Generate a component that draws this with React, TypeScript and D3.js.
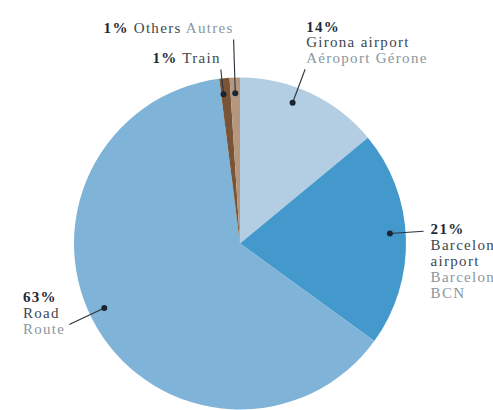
import * as d3 from 'd3';
import { useEffect, useRef } from 'react';

// slice data, clockwise from 12 o'clock
const categories = ['Girona airport', 'Barcelona airport', 'Road', 'Train', 'Others'];
const translations = ['Aéroport Gérone', 'Barcelona BCN', 'Route', '', 'Autres'];
const shares = [14, 21, 63, 1, 1];
const sliceColors = ['#b3cde2', '#4499cc', '#7fb4d8', '#7a5437', '#b5967e'];

type Placement = 'above' | 'right' | 'left' | 'inline';

// label leader layout: angle nudge (deg), leader end radius, text placement
const labelLayout: { shift: number; end: number; place: Placement }[] = [
  { shift: -4.7, end: 186, place: 'above' },
  { shift: -2, end: 184, place: 'right' },
  { shift: 5.2, end: 189, place: 'left' },
  { shift: -0.9, end: 175, place: 'inline' },
  { shift: 0, end: 204, place: 'inline' },
];

const WIDTH = 493;
const HEIGHT = 410;
const CX = 240;
const CY = 243.5;
const RADIUS = 166;
const FONT = 'Liberation Serif';
const FONT_SIZE = 15;
const LETTER_SPACING = 1.3;
const LINE_HEIGHT = 15.8;

const PCT_COLOR = '#1e2a36';
const NAME_COLOR = '#3c4650';
const TRANSLATION_COLOR = '#8a96a1';
const LEADER_COLOR = '#2b3540';

export default function App() {
  const svgRef = useRef<SVGSVGElement | null>(null);

  useEffect(() => {
    if (!svgRef.current) return;
    const svg = d3.select(svgRef.current);
    svg.selectAll('*').remove();

    const data = categories.map((name, i) => ({
      name,
      translation: translations[i],
      value: shares[i],
      color: sliceColors[i],
      layout: labelLayout[i],
    }));
    type Datum = (typeof data)[number];

    const pie = d3
      .pie<Datum>()
      .value((d) => d.value)
      .sort(null);
    const arcs = pie(data);
    const arc = d3.arc<d3.PieArcDatum<Datum>>().innerRadius(0).outerRadius(RADIUS);

    const chart = svg.append('g').attr('transform', `translate(${CX},${CY})`);

    chart
      .selectAll('path')
      .data(arcs)
      .join('path')
      .attr('d', arc)
      .attr('fill', (d) => d.data.color);

    const polar = (angle: number, r: number): [number, number] => [
      r * Math.sin(angle),
      -r * Math.cos(angle),
    ];

    const labels = svg
      .append('g')
      .attr('font-family', FONT)
      .attr('font-size', FONT_SIZE)
      .attr('letter-spacing', LETTER_SPACING);

    // width of a string in the label font
    const probe = labels.append('text').attr('visibility', 'hidden');
    const measure = (s: string, bold = false) => {
      probe.attr('font-weight', bold ? 700 : 400).text(s);
      return (probe.node() as SVGTextElement).getComputedTextLength();
    };

    const wrap = (s: string, maxWidth: number) => {
      const words = s.split(' ');
      const lines: string[] = [];
      let current = '';
      words.forEach((w) => {
        const next = current ? `${current} ${w}` : w;
        if (current && measure(next) > maxWidth) {
          lines.push(current);
          current = w;
        } else {
          current = next;
        }
      });
      if (current) lines.push(current);
      return lines;
    };

    arcs.forEach((a) => {
      const { layout } = a.data;
      const angle = (a.startAngle + a.endAngle) / 2 + (layout.shift * Math.PI) / 180;
      const [dx, dy] = polar(angle, RADIUS * 0.905);
      const [ex, ey] = polar(angle, layout.end);
      const dotX = CX + dx;
      const dotY = CY + dy;
      const endX = CX + ex;
      const endY = CY + ey;

      labels
        .append('line')
        .attr('x1', dotX)
        .attr('y1', dotY)
        .attr('x2', endX)
        .attr('y2', endY)
        .attr('stroke', LEADER_COLOR)
        .attr('stroke-width', 1.1);
      labels
        .append('circle')
        .attr('cx', dotX)
        .attr('cy', dotY)
        .attr('r', 3)
        .attr('fill', '#1b2530');

      const pct = `${a.data.value}%`;

      if (layout.place === 'inline') {
        const t = labels
          .append('text')
          .attr('x', endX)
          .attr('y', endY - 7)
          .attr('text-anchor', 'end');
        t.append('tspan').attr('font-weight', 700).attr('fill', PCT_COLOR).text(pct);
        t.append('tspan').attr('fill', NAME_COLOR).text(` ${a.data.name}`);
        if (a.data.translation) {
          t.append('tspan').attr('fill', TRANSLATION_COLOR).text(` ${a.data.translation}`);
        }
        return;
      }

      let x = endX + 1;
      let maxWidth = 1000;
      if (layout.place === 'right') {
        x = endX + 7;
        maxWidth = WIDTH - x;
      }
      const lines: { text: string; bold: boolean; color: string }[] = [
        { text: pct, bold: true, color: PCT_COLOR },
        ...wrap(a.data.name, maxWidth).map((text) => ({ text, bold: false, color: NAME_COLOR })),
        ...wrap(a.data.translation, maxWidth).map((text) => ({
          text,
          bold: false,
          color: TRANSLATION_COLOR,
        })),
      ];

      let firstBaseline = endY + 3;
      if (layout.place === 'above') {
        firstBaseline = endY - 6 - (lines.length - 1) * LINE_HEIGHT;
      } else if (layout.place === 'left') {
        firstBaseline = endY + 9 - (lines.length - 1) * LINE_HEIGHT;
        const blockWidth = d3.max(lines, (l) => measure(l.text, l.bold)) ?? 0;
        x = endX - 4 - blockWidth;
      }

      lines.forEach((l, i) => {
        labels
          .append('text')
          .attr('x', x)
          .attr('y', firstBaseline + i * LINE_HEIGHT)
          .attr('font-weight', l.bold ? 700 : 400)
          .attr('fill', l.color)
          .text(l.text);
      });
    });

    probe.remove();
  }, []);

  return (
    <div style={{ position: 'fixed', left: 0, top: 0, width: WIDTH, height: HEIGHT, background: '#fff' }}>
      <svg ref={svgRef} width={WIDTH} height={HEIGHT} style={{ display: 'block' }} />
    </div>
  );
}
